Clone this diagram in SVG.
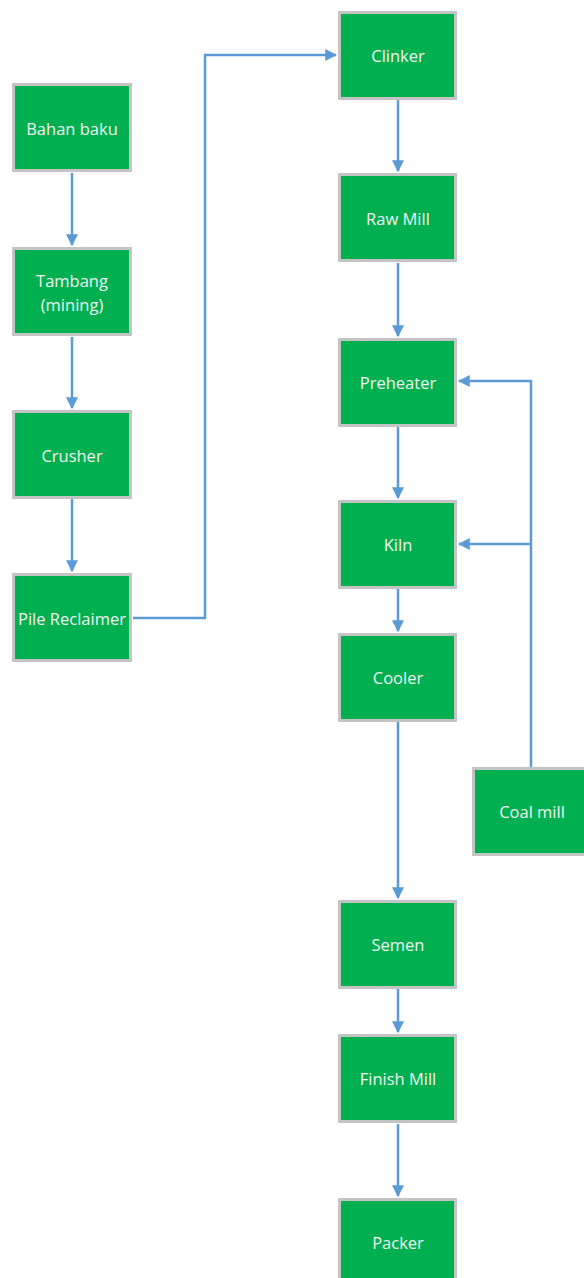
<svg xmlns="http://www.w3.org/2000/svg" width="584" height="1278" viewBox="0 0 584 1278">
  <style>
    .box rect { fill: #00b050; stroke: #c4c4c4; stroke-width: 3; }
    .box text { fill: #f2f2f2; font-family: "Open Sans", "Noto Sans", sans-serif; font-size: 16.5px; text-anchor: middle; dominant-baseline: central; }
    .conn path { fill: none; stroke: #5b9bd5; stroke-width: 2.5; }
  </style>
  <defs>
    <marker id="arrow" viewBox="0 0 10 10" refX="9" refY="5" markerWidth="4.8" markerHeight="4.8" orient="auto" markerUnits="strokeWidth">
      <path d="M0,0 L10,5 L0,10 z" fill="#5b9bd5"/>
    </marker>
  </defs>
  <rect width="584" height="1278" fill="#ffffff"/>

  <!-- connectors -->
  <g class="conn" id="connectors">
    <path d="M72,173 V245" marker-end="url(#arrow)"/>
    <path d="M72,337 V408" marker-end="url(#arrow)"/>
    <path d="M72,499 V571" marker-end="url(#arrow)"/>
    <path d="M133,618 H205 V55 H336" marker-end="url(#arrow)"/>
    <path d="M398,99 V171" marker-end="url(#arrow)"/>
    <path d="M398,263 V336" marker-end="url(#arrow)"/>
    <path d="M398,426 V498" marker-end="url(#arrow)"/>
    <path d="M398,589 V631" marker-end="url(#arrow)"/>
    <path d="M398,722 V898" marker-end="url(#arrow)"/>
    <path d="M398,989 V1032" marker-end="url(#arrow)"/>
    <path d="M398,1124 V1196" marker-end="url(#arrow)"/>
    <path d="M531,767 V381 H459" marker-end="url(#arrow)"/>
    <path d="M531,544 H459" marker-end="url(#arrow)"/>
  </g>

  <!-- left column -->
  <g class="box" id="bahan-baku">
    <rect x="13.5" y="84.5" width="117" height="86"/>
    <text x="72" y="128">Bahan baku</text>
  </g>
  <g class="box" id="tambang">
    <rect x="13.5" y="248.5" width="117" height="86"/>
    <text x="72" y="280">Tambang</text>
    <text x="72" y="304">(mining)</text>
  </g>
  <g class="box" id="crusher">
    <rect x="13.5" y="411.5" width="117" height="86"/>
    <text x="72" y="455">Crusher</text>
  </g>
  <g class="box" id="pile-reclaimer">
    <rect x="13.5" y="574.5" width="117" height="86"/>
    <text x="72" y="618">Pile Reclaimer</text>
  </g>

  <!-- right column -->
  <g class="box" id="clinker">
    <rect x="339.5" y="12.5" width="116" height="86"/>
    <text x="398" y="55">Clinker</text>
  </g>
  <g class="box" id="raw-mill">
    <rect x="339.5" y="174.5" width="116" height="86"/>
    <text x="398" y="218">Raw Mill</text>
  </g>
  <g class="box" id="preheater">
    <rect x="339.5" y="339.5" width="116" height="86"/>
    <text x="398" y="382">Preheater</text>
  </g>
  <g class="box" id="kiln">
    <rect x="339.5" y="501.5" width="116" height="86"/>
    <text x="398" y="544">Kiln</text>
  </g>
  <g class="box" id="cooler">
    <rect x="339.5" y="634.5" width="116" height="86"/>
    <text x="398" y="677">Cooler</text>
  </g>
  <g class="box" id="semen">
    <rect x="339.5" y="901.5" width="116" height="86"/>
    <text x="398" y="944">Semen</text>
  </g>
  <g class="box" id="finish-mill">
    <rect x="339.5" y="1035.5" width="116" height="86"/>
    <text x="398" y="1078">Finish Mill</text>
  </g>
  <g class="box" id="packer">
    <rect x="339.5" y="1199.5" width="116" height="86"/>
    <text x="398" y="1242">Packer</text>
  </g>

  <!-- side feed -->
  <g class="box" id="coal-mill">
    <rect x="473.5" y="768.5" width="116" height="86"/>
    <text x="532" y="811">Coal mill</text>
  </g>
</svg>
